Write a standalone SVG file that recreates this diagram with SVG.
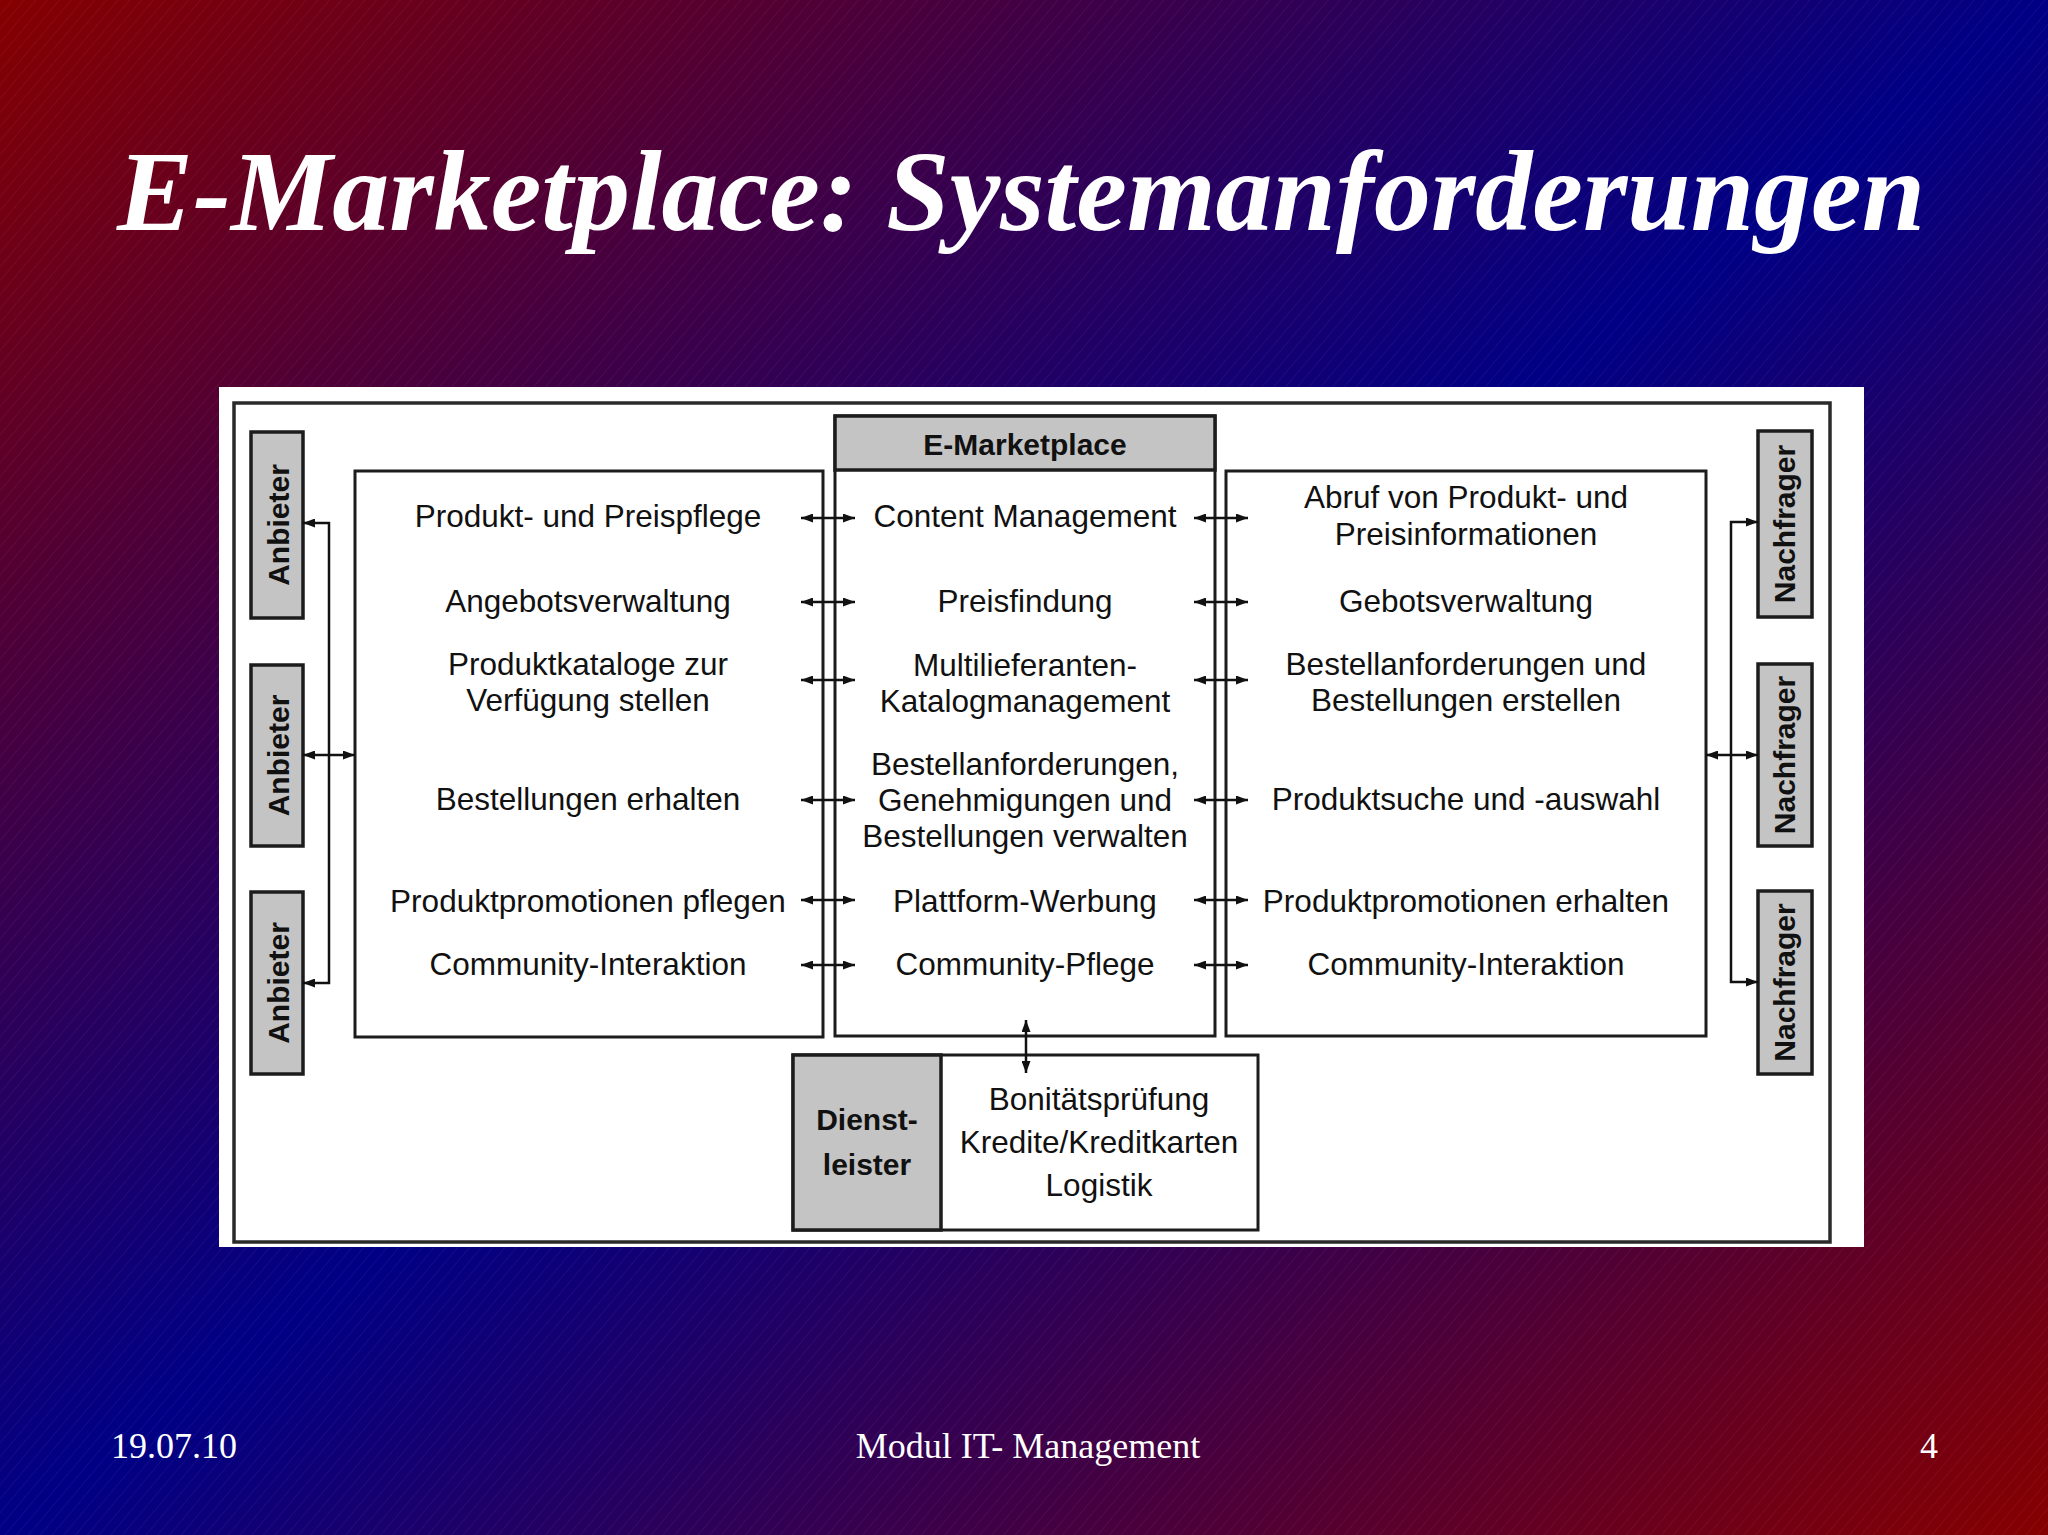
<svg xmlns="http://www.w3.org/2000/svg" width="2048" height="1535" viewBox="0 0 2048 1535">
  <defs>
    <linearGradient id="bg" x1="0" y1="0" x2="1" y2="1">
      <stop offset="0" stop-color="#850000"/>
      <stop offset="0.5" stop-color="#000085"/>
      <stop offset="1" stop-color="#850000"/>
    </linearGradient>
    <pattern id="hatch" width="9" height="9" patternUnits="userSpaceOnUse" patternTransform="rotate(40)">
      <line x1="0" y1="0" x2="0" y2="9" stroke="#ffffff" stroke-width="1" stroke-opacity="0.09"/>
    </pattern>
    <marker id="ah" viewBox="0 0 12 9" refX="12" refY="4.5" markerWidth="12" markerHeight="9" markerUnits="userSpaceOnUse" orient="auto-start-reverse">
      <path d="M0,0 L12,4.5 L0,9 z" fill="#111"/>
    </marker>
    <style>
      .title { font-family: "Liberation Serif", "Times New Roman", serif; font-weight: bold; font-style: italic; font-size: 114px; fill: #ffffff; }
      .foot { font-family: "Liberation Serif", "Times New Roman", serif; font-size: 36px; fill: #ffffff; }
      .box { fill: #ffffff; stroke: #1c1c1c; stroke-width: 3; }
      .gray { fill: #c4c4c4; stroke: #1c1c1c; stroke-width: 3.5; }
      .t { font-family: "Liberation Sans", Arial, sans-serif; font-size: 31.5px; fill: #111; text-anchor: middle; }
      .b { font-family: "Liberation Sans", Arial, sans-serif; font-weight: bold; font-size: 30px; fill: #111; text-anchor: middle; }
      .conn { fill: none; stroke: #111; stroke-width: 2.5; marker-start: url(#ah); marker-end: url(#ah); }
    </style>
  </defs>

  <rect id="background" x="0" y="0" width="2048" height="1535" fill="url(#bg)"/>
  <rect x="0" y="0" width="2048" height="1535" fill="url(#hatch)"/>

  <text id="title" class="title" x="1021" y="230" text-anchor="middle">E-Marketplace: Systemanforderungen</text>

  <g id="diagram-panel">
    <rect x="219" y="387" width="1645" height="860" fill="#ffffff"/>
    <rect x="234" y="403" width="1596" height="839" fill="none" stroke="#2a2a2a" stroke-width="3.5"/>
  </g>

  <g id="anbieter-1">
    <rect class="gray" x="251" y="432" width="52" height="186"/>
    <text class="b" transform="translate(289,525) rotate(-90)">Anbieter</text>
  </g>
  <g id="anbieter-2">
    <rect class="gray" x="251" y="665" width="52" height="181"/>
    <text class="b" transform="translate(289,755.5) rotate(-90)">Anbieter</text>
  </g>
  <g id="anbieter-3">
    <rect class="gray" x="251" y="892" width="52" height="182"/>
    <text class="b" transform="translate(289,983) rotate(-90)">Anbieter</text>
  </g>

  <g id="nachfrager-1">
    <rect class="gray" x="1758" y="431" width="54" height="186"/>
    <text class="b" transform="translate(1795,524) rotate(-90)">Nachfrager</text>
  </g>
  <g id="nachfrager-2">
    <rect class="gray" x="1758" y="664" width="54" height="182"/>
    <text class="b" transform="translate(1795,755) rotate(-90)">Nachfrager</text>
  </g>
  <g id="nachfrager-3">
    <rect class="gray" x="1758" y="891" width="54" height="183"/>
    <text class="b" transform="translate(1795,982.5) rotate(-90)">Nachfrager</text>
  </g>

  <g id="anbieter-funktionen">
    <rect class="box" x="355" y="471" width="468" height="566"/>
    <text class="t" x="588" y="527">Produkt- und Preispflege</text>
    <text class="t" x="588" y="612">Angebotsverwaltung</text>
    <text class="t" x="588" y="675">Produktkataloge zur</text>
    <text class="t" x="588" y="711">Verfügung stellen</text>
    <text class="t" x="588" y="810">Bestellungen erhalten</text>
    <text class="t" x="588" y="912">Produktpromotionen pflegen</text>
    <text class="t" x="588" y="975">Community-Interaktion</text>
  </g>

  <g id="e-marketplace">
    <rect class="box" x="835" y="416" width="380" height="620"/>
    <rect class="gray" x="835" y="416" width="380" height="54" fill="#c8c8c8"/>
    <text class="b" x="1025" y="455">E-Marketplace</text>
    <text class="t" x="1025" y="527">Content Management</text>
    <text class="t" x="1025" y="612">Preisfindung</text>
    <text class="t" x="1025" y="676">Multilieferanten-</text>
    <text class="t" x="1025" y="712">Katalogmanagement</text>
    <text class="t" x="1025" y="775">Bestellanforderungen,</text>
    <text class="t" x="1025" y="811">Genehmigungen und</text>
    <text class="t" x="1025" y="847">Bestellungen verwalten</text>
    <text class="t" x="1025" y="912">Plattform-Werbung</text>
    <text class="t" x="1025" y="975">Community-Pflege</text>
  </g>

  <g id="nachfrager-funktionen">
    <rect class="box" x="1226" y="471" width="480" height="565"/>
    <text class="t" x="1466" y="508">Abruf von Produkt- und</text>
    <text class="t" x="1466" y="545">Preisinformationen</text>
    <text class="t" x="1466" y="612">Gebotsverwaltung</text>
    <text class="t" x="1466" y="675">Bestellanforderungen und</text>
    <text class="t" x="1466" y="711">Bestellungen erstellen</text>
    <text class="t" x="1466" y="810">Produktsuche und -auswahl</text>
    <text class="t" x="1466" y="912">Produktpromotionen erhalten</text>
    <text class="t" x="1466" y="975">Community-Interaktion</text>
  </g>

  <g id="dienstleister">
    <rect class="box" x="793" y="1055" width="465" height="175"/>
    <rect class="gray" x="793" y="1055" width="148" height="175" fill="#bdbdbd"/>
    <text class="b" x="867" y="1130">Dienst-</text>
    <text class="b" x="867" y="1175">leister</text>
    <text class="t" x="1099" y="1110">Bonitätsprüfung</text>
    <text class="t" x="1099" y="1153">Kredite/Kreditkarten</text>
    <text class="t" x="1099" y="1196">Logistik</text>
  </g>

  <g id="connectors">
    <path class="conn" d="M303,523 H329 V983 H303"/>
    <path class="conn" d="M303,755 H355"/>
    <path class="conn" d="M1758,522 H1731 V982 H1758"/>
    <path class="conn" d="M1706,755 H1758"/>
    <path class="conn" d="M801,518 H855"/>
    <path class="conn" d="M801,602 H855"/>
    <path class="conn" d="M801,680 H855"/>
    <path class="conn" d="M801,800 H855"/>
    <path class="conn" d="M801,900 H855"/>
    <path class="conn" d="M801,965 H855"/>
    <path class="conn" d="M1194,518 H1248"/>
    <path class="conn" d="M1194,602 H1248"/>
    <path class="conn" d="M1194,680 H1248"/>
    <path class="conn" d="M1194,800 H1248"/>
    <path class="conn" d="M1194,900 H1248"/>
    <path class="conn" d="M1194,965 H1248"/>
    <path class="conn" d="M1026,1020 V1073"/>
  </g>

  <g id="footer">
    <text class="foot" x="111" y="1458">19.07.10</text>
    <text class="foot" x="1028" y="1458" text-anchor="middle">Modul IT- Management</text>
    <text class="foot" x="1938" y="1458" text-anchor="end">4</text>
  </g>
</svg>
